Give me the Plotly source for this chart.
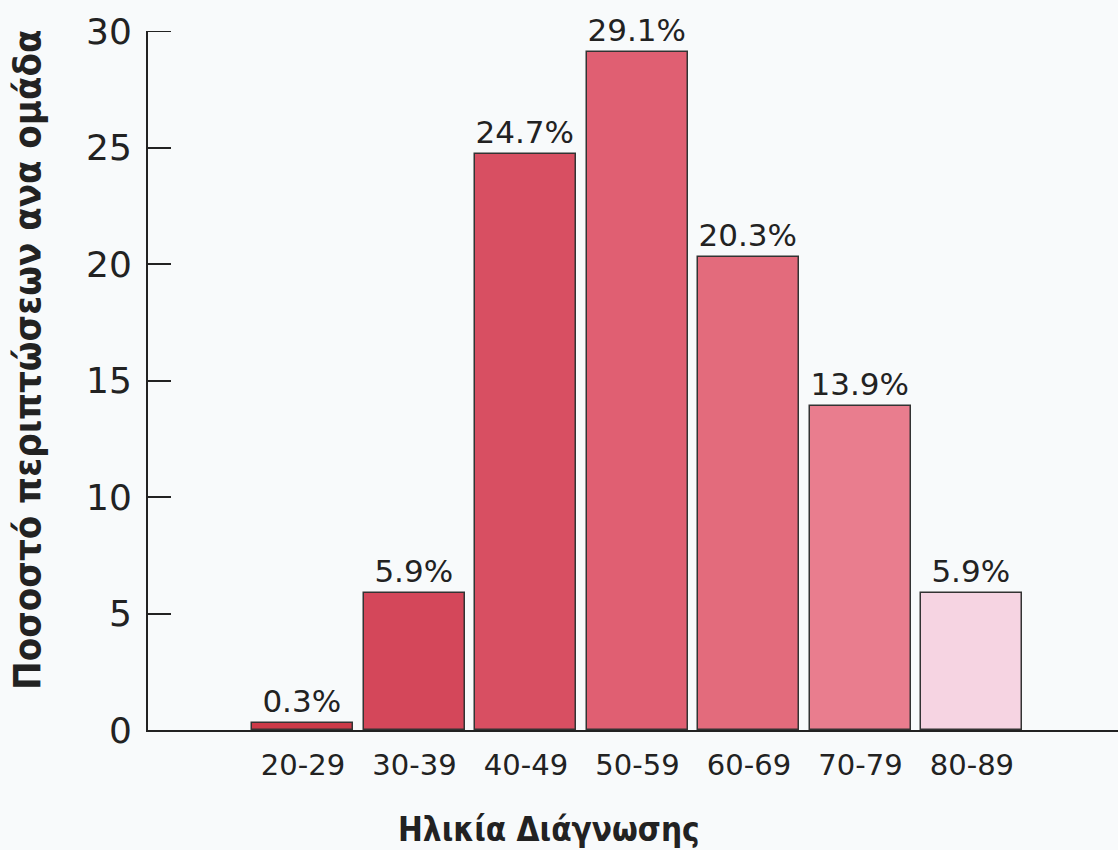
import plotly.graph_objects as go

# Age-at-diagnosis groups and share of cases per group (%)
age_groups = ["20-29", "30-39", "40-49", "50-59", "60-69", "70-79", "80-89"]
percentages = [0.3, 5.9, 24.7, 29.1, 20.3, 13.9, 5.9]
bar_colors = ["#cc3a48", "#d4475a", "#d84f62", "#e05f72", "#e36b7c", "#e97d8e", "#f6d4e2"]
y_ticks = [0, 5, 10, 15, 20, 25, 30]

positions = list(range(len(age_groups)))

fig = go.Figure()
fig.add_trace(go.Bar(
    x=positions,
    y=percentages,
    width=0.906,
    marker=dict(color=bar_colors, line=dict(color="#333333", width=1.5)),
    text=[f"{v:.1f}%" for v in percentages],
    textposition="outside",
    cliponaxis=False,
    textfont=dict(family="DejaVu Sans, sans-serif", size=31, color="#222222"),
    hoverinfo="skip",
))

fig.update_layout(
    width=1118,
    height=850,
    margin=dict(l=148, r=0, t=31, b=120),
    paper_bgcolor="#f8fafb",
    plot_bgcolor="#f8fafb",
    showlegend=False,
    bargap=0,
    font=dict(family="DejaVu Sans, sans-serif", color="#222222"),
)

fig.update_xaxes(
    range=[-1.39, 7.31],
    tickmode="array",
    tickvals=positions,
    ticktext=age_groups,
    tickfont=dict(size=29, color="#222222"),
    ticks="",
    ticklabelstandoff=8,
    showline=True,
    linecolor="#222222",
    linewidth=2,
    showgrid=False,
    zeroline=False,
)

fig.update_yaxes(
    range=[0, 30],
    tickmode="array",
    tickvals=y_ticks,
    ticks="inside",
    ticklen=23,
    tickwidth=2,
    tickcolor="#222222",
    tickfont=dict(size=36, color="#222222"),
    ticklabelstandoff=7,
    showline=True,
    linecolor="#222222",
    linewidth=2,
    showgrid=False,
    zeroline=False,
)

# Plotly drops the inside tick at the top end of the axis; draw it explicitly
fig.add_shape(
    type="line",
    xref="paper", yref="y",
    x0=0, x1=23 / 970,
    y0=max(y_ticks), y1=max(y_ticks),
    line=dict(color="#222222", width=2),
)

fig.add_annotation(
    text="<b>Ποσοστό περιπτώσεων ανα ομάδα</b>",
    xref="paper", yref="paper",
    x=-0.124, y=0.529,
    xanchor="center", yanchor="middle",
    textangle=-90,
    showarrow=False,
    font=dict(family="Liberation Sans Narrow, DejaVu Sans Condensed, Arial Narrow, Liberation Sans, sans-serif",
              size=38, color="#222222"),
)

fig.add_annotation(
    text="<b>Ηλικία Διάγνωσης</b>",
    xref="paper", yref="paper",
    x=0.413, y=-0.143,
    xanchor="center", yanchor="middle",
    showarrow=False,
    font=dict(family="Liberation Sans Narrow, DejaVu Sans Condensed, Arial Narrow, Liberation Sans, sans-serif",
              size=33, color="#222222"),
)

fig.write_html("out.html")
